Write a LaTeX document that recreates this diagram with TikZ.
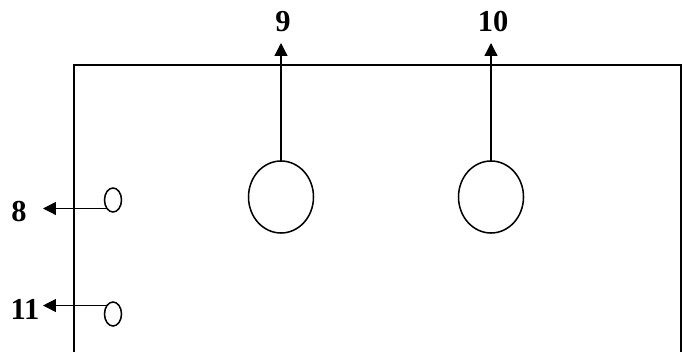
\documentclass[tikz,border=0pt]{standalone}
\usepackage{fontspec}
\setmainfont{Liberation Serif}
\usetikzlibrary{arrows.meta,shapes.geometric}

\begin{document}
\begin{tikzpicture}[x=0.03cm, y=0.03cm, line width=1.3pt,
  every node/.style={inner sep=0pt, outer sep=0pt},
  bigport/.style={draw, ellipse, minimum width=1.95cm, minimum height=2.16cm},
  smallport/.style={draw, ellipse, minimum width=0.51cm, minimum height=0.72cm},
  lbl/.style={font=\fontsize{26}{30}\selectfont\bfseries},
  flow/.style={-{Triangle[length=11pt,width=11pt]}, line width=1.1pt}]
\useasboundingbox (0,0) rectangle (684,352);

% housing
\draw (74,0) -- (74,287) -- (681,287) -- (681,0);

% ports on top
\node[bigport] (e9) at (281,155) {};
\node[bigport] (e10) at (491,155) {};
\coordinate (t9) at (281,309);
\coordinate (t10) at (491,309);
\node[lbl] (l9) at (283,330) {9};
\node[lbl] (l10) at (493,330) {10};
\draw[flow] (e9.north) -- (t9);
\draw[flow] (e10.north) -- (t10);

% ports on the left
\node[smallport] (e8) at (113,152) {};
\node[smallport] (e11) at (113,38) {};
\coordinate (t8) at (43,143);
\coordinate (t11) at (43,47);
\node[lbl] (l8) at (19,140) {8};
\node[lbl] (l11) at (25,43) {11};
\draw[flow] (e8.south west) -- (e8.south west -| t8);
\draw[flow] (e11.north west) -- (e11.north west -| t11);
\end{tikzpicture}
\end{document}
